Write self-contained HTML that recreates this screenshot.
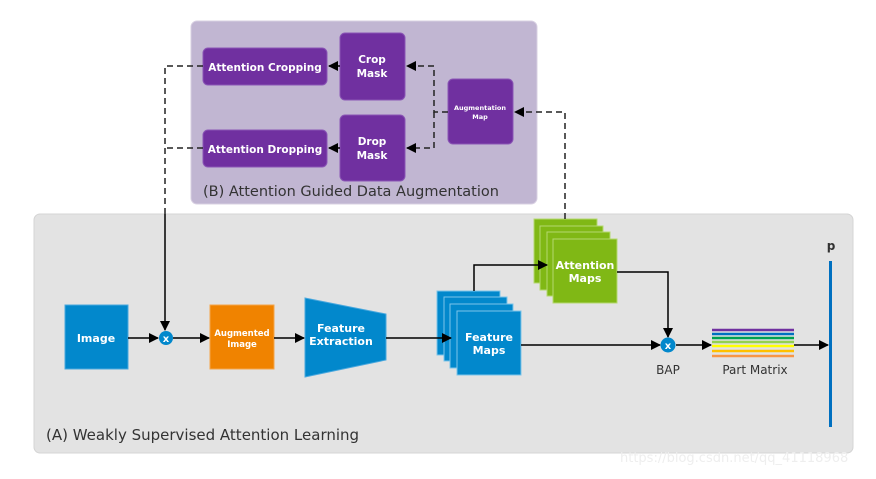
<!DOCTYPE html>
<html><head><style>
body{margin:0;background:#fff;}
svg text{font-family:"DejaVu Sans","Liberation Sans",sans-serif;}
</style></head><body>
<svg width="876" height="474" viewBox="0 0 876 474" xmlns="http://www.w3.org/2000/svg">
<defs>
<marker id="a" markerWidth="10" markerHeight="10" refX="9" refY="5" orient="auto" markerUnits="userSpaceOnUse"><path d="M0,0 L10,5 L0,10 z" fill="#000"/></marker>
</defs>
<rect x="34" y="214" width="819" height="239" rx="6" fill="#e3e3e3" stroke="#d4d4d4"/>
<rect x="191" y="21" width="346" height="183" rx="6" fill="#c1b6d2" stroke="#d8d0e2"/>
<text x="46" y="440" font-size="15" fill="#333">(A) Weakly Supervised Attention Learning</text>
<text x="203" y="196" font-size="14.5" fill="#333">(B) Attention Guided Data Augmentation</text>

<g fill="#7030a0" stroke="#8a55b5" stroke-width="1">
<rect x="203" y="48" width="124" height="37" rx="5"/>
<rect x="203" y="130" width="124" height="37" rx="5"/>
<rect x="340" y="33" width="65" height="67" rx="5"/>
<rect x="340" y="115" width="65" height="66" rx="5"/>
<rect x="448" y="79" width="65" height="65" rx="5"/>
</g>
<g fill="#fff" font-size="10.5" font-weight="bold" text-anchor="middle">
<text x="265" y="71">Attention Cropping</text>
<text x="265" y="153">Attention Dropping</text>
<text x="372" y="63">Crop</text><text x="372" y="77">Mask</text>
<text x="372" y="145">Drop</text><text x="372" y="159">Mask</text>
<text x="480" y="110" font-size="6.5">Augmentation</text><text x="480" y="119" font-size="6.5">Map</text>
</g>
<rect x="65" y="305" width="63" height="64" fill="#0288cc" stroke="#4aa8de"/>
<rect x="210" y="305" width="64" height="64" fill="#f08300" stroke="#f5a64a"/>
<polygon points="305,298 386,314 386,360 305,377" fill="#0288cc" stroke="#4aa8de"/>
<g fill="#0288cc" stroke="#7cc4ea">
<rect x="437" y="291" width="63" height="64"/>
<rect x="444" y="297" width="63" height="64"/>
<rect x="450" y="304" width="63" height="64"/>
<rect x="457" y="311" width="64" height="64"/>
</g>
<g fill="#80b815" stroke="#b5d870">
<rect x="534" y="219" width="63" height="64"/>
<rect x="540" y="226" width="63" height="64"/>
<rect x="547" y="232" width="63" height="64"/>
<rect x="553" y="239" width="64" height="64"/>
</g>
<g stroke="#222" stroke-width="1.5" fill="none" stroke-dasharray="6,4">
<path d="M448,112 H434 V66 H407" marker-end="url(#a)"/>
<path d="M434,112 V148 H407" marker-end="url(#a)"/>
<path d="M565,219 V112 H515" marker-end="url(#a)"/>
<path d="M203,66 H165 V214"/>
<path d="M203,148 H165"/>
</g>
<g stroke="#000" stroke-width="1.5" fill="none">
<path d="M340,66 H329" marker-end="url(#a)"/>
<path d="M340,148 H329" marker-end="url(#a)"/>
<path d="M165,214 V330" marker-end="url(#a)"/>
<path d="M128,338 H158" marker-end="url(#a)"/>
<path d="M173,338 H209" marker-end="url(#a)"/>
<path d="M274,338 H304" marker-end="url(#a)"/>
<path d="M386,338 H451" marker-end="url(#a)"/>
<path d="M474,291 V265 H547" marker-end="url(#a)"/>
<path d="M617,272 H668 V337" marker-end="url(#a)"/>
<path d="M521,345 H660" marker-end="url(#a)"/>
<path d="M676,345 H711" marker-end="url(#a)"/>
<path d="M794,345 H828" marker-end="url(#a)"/>
</g>
<circle cx="166" cy="338" r="7" fill="#0288cc"/>
<circle cx="668" cy="345" r="7.5" fill="#0288cc"/>
<g fill="#fff" font-size="11" font-weight="bold" text-anchor="middle">
<text x="96" y="342">Image</text>
<text x="242" y="336" font-size="8.5">Augmented</text><text x="242" y="347" font-size="8.5">Image</text>
<text x="341" y="332">Feature</text><text x="341" y="345">Extraction</text>
<text x="489" y="341">Feature</text><text x="489" y="354">Maps</text>
<text x="585" y="269">Attention</text><text x="585" y="282">Maps</text>
<text x="166" y="342" font-size="10">x</text>
<text x="668" y="349" font-size="10">x</text>
</g>
<g stroke-width="2.5">
<line x1="712" y1="330" x2="794" y2="330" stroke="#7030a0"/>
<line x1="712" y1="334" x2="794" y2="334" stroke="#0070c0"/>
<line x1="712" y1="338" x2="794" y2="338" stroke="#00a050"/>
<line x1="712" y1="342" x2="794" y2="342" stroke="#92d050"/>
<line x1="712" y1="346" x2="794" y2="346" stroke="#ffff00"/>
<line x1="712" y1="351" x2="794" y2="351" stroke="#ffc000"/>
<line x1="712" y1="356" x2="794" y2="356" stroke="#f79646"/>
</g>
<rect x="829" y="261" width="3" height="166" fill="#0070c0"/>
<g fill="#333" font-size="12" text-anchor="middle">
<text x="668" y="374">BAP</text>
<text x="755" y="374">Part Matrix</text>
<text x="831" y="250" font-weight="bold">p</text>
</g>
<text x="620" y="462" font-size="13" fill="#eee">https://blog.csdn.net/qq_41118968</text>
</svg>
</body></html>
